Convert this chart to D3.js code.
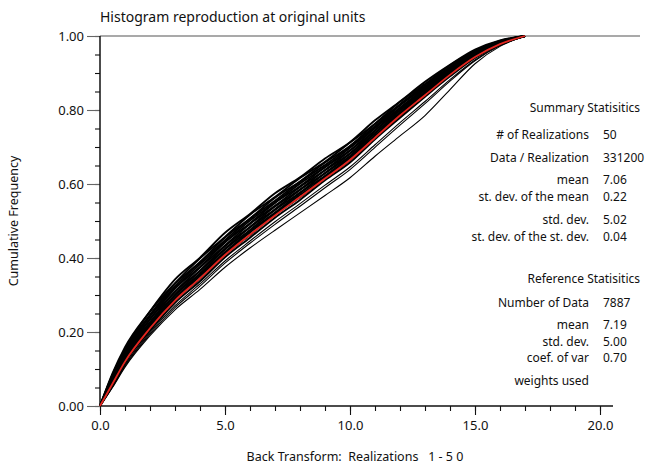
<!DOCTYPE html>
<html>
<head>
<meta charset="utf-8">
<script src="https://cdn.jsdelivr.net/npm/d3@7"></script>
<style>
  body { margin: 0; background: #fff; }
  svg text { font-family: "Noto Sans", sans-serif; fill: #111; }
</style>
</head>
<body>
<svg id="chart" width="648" height="471"></svg>
<script>
(function(d3){
  "use strict";

/***************** DATA ******************/
// x positions (original units) shared by every curve
var xs = [0, 0.5, 1, 2, 3, 4, 5, 6, 7, 8, 9, 10, 11, 12, 13, 14, 15, 16, 17];

// reference (declustered data) cdf, drawn in red
var reference = [0, .060, .120, .210, .285, .345, .408, .463, .515, .565, .615, .665, .725, .785, .840, .895, .943, .978, 1];

// realizations that make up the black band, top to bottom
var realizations = [
  [0, .088, .159, .256, .342, .401, .468, .519, .575, .618, .669, .713, .772, .823, .876, .922, .963, .988, 1],
  [0, .085, .152, .255, .332, .399, .457, .517, .565, .616, .660, .712, .763, .822, .870, .921, .960, .987, 1],
  [0, .082, .151, .246, .330, .389, .455, .507, .563, .607, .658, .703, .762, .815, .868, .916, .959, .986, 1],
  [0, .080, .146, .246, .323, .388, .448, .506, .555, .606, .651, .702, .756, .815, .864, .915, .957, .985, 1],
  [0, .077, .142, .242, .318, .383, .443, .501, .550, .601, .646, .698, .752, .812, .861, .912, .956, .984, 1],
  [0, .075, .142, .235, .317, .376, .442, .494, .549, .594, .645, .691, .751, .806, .859, .910, .954, .983, 1],
  [0, .073, .136, .234, .309, .374, .434, .492, .541, .592, .638, .690, .745, .805, .856, .908, .952, .983, 1],
  [0, .071, .136, .227, .308, .366, .432, .484, .539, .585, .637, .683, .744, .800, .855, .905, .951, .982, 1],
  [0, .068, .133, .224, .301, .365, .425, .483, .532, .584, .630, .682, .738, .799, .850, .904, .949, .981, 1],
  [0, .066, .128, .220, .299, .358, .423, .476, .530, .577, .629, .676, .737, .794, .848, .901, .948, .980, 1],
  [0, .063, .125, .219, .293, .355, .416, .473, .523, .575, .622, .674, .731, .792, .845, .899, .946, .979, 1],
  [0, .061, .122, .215, .288, .351, .412, .469, .519, .570, .618, .670, .728, .789, .843, .897, .944, .979, 1],
  [0, .059, .119, .209, .286, .344, .409, .462, .516, .564, .616, .664, .726, .784, .841, .894, .943, .978, 1],
  [0, .055, .116, .203, .279, .337, .402, .455, .509, .557, .610, .658, .721, .779, .836, .891, .941, .977, 1]
];

// the few realizations that sit below the band
var lowRealizations = [
  [0, .054, .111, .198, .271, .330, .392, .446, .498, .547, .597, .646, .706, .766, .823, .882, .935, .975, 1],
  [0, .052, .108, .194, .266, .324, .386, .440, .491, .540, .590, .639, .699, .759, .817, .878, .933, .974, 1],
  [0, .050, .105, .190, .260, .315, .375, .427, .475, .522, .569, .617, .675, .730, .785, .855, .925, .972, 1]
];

var xMajor = [0, 5, 10, 15, 20];
var xMinor = d3.range(0, 21, 1);
var yMajor = [0, 0.2, 0.4, 0.6, 0.8, 1.0];
var yMinor = d3.range(0, 1.0001, 0.05);

var summaryLabels = ["# of Realizations", "Data / Realization", "mean", "st. dev. of the mean", "std. dev.", "st. dev. of the st. dev."];
var summaryValues = ["50", "331200", "7.06", "0.22", "5.02", "0.04"];
var summaryRows = [135, 158, 180, 196.5, 220, 236.5];

var refLabels = ["Number of Data", "mean", "std. dev.", "coef. of var", "weights used"];
var refValues = ["7887", "7.19", "5.00", "0.70", ""];
var refRows = [303, 325, 341.5, 358, 381];

/***************** CHART ******************/
var svg = d3.select("#chart");
var x = d3.scaleLinear().domain([0, 20]).range([100, 600]);
var y = d3.scaleLinear().domain([0, 1]).range([406, 36]);

// top line at 1.00
svg.append("line")
  .attr("x1", x(0)).attr("x2", 640)
  .attr("y1", y(1)).attr("y2", y(1))
  .attr("stroke", "#555").attr("stroke-width", 1.2);

// x axis: minor then major ticks
var gx = svg.append("g").attr("transform", "translate(0," + y(0) + ")");
gx.append("g")
  .call(d3.axisBottom(x).tickValues(xMinor).tickSize(5).tickFormat(""))
  .call(function(g){ g.select(".domain").remove(); });
gx.append("g")
  .call(d3.axisBottom(x).tickValues(xMajor).tickSize(9).tickPadding(6).tickFormat(d3.format(".1f")))
  .call(function(g){ g.select(".domain").remove(); });
gx.append("line")
  .attr("x1", x(0)).attr("x2", 613)
  .attr("stroke", "#111").attr("stroke-width", 1.3);
gx.selectAll(".tick line").attr("stroke", "#111").attr("stroke-width", 1.1);

// y axis
var gy = svg.append("g").attr("transform", "translate(" + x(0) + ",0)");
gy.append("g")
  .call(d3.axisLeft(y).tickValues(yMinor).tickSize(5).tickFormat(""))
  .call(function(g){ g.select(".domain").remove(); });
gy.append("g")
  .attr("class", "ymajor")
  .call(d3.axisLeft(y).tickValues(yMajor).tickSize(13).tickPadding(3).tickFormat(d3.format(".2f")))
  .call(function(g){ g.select(".domain").remove(); });
gy.selectAll(".tick line").attr("stroke", "#111").attr("stroke-width", 1.1);
gy.selectAll(".ymajor .tick line").attr("stroke", "#666");
gy.append("line")
  .attr("y1", y(0)).attr("y2", y(1))
  .attr("stroke", "#111").attr("stroke-width", 1.5);

svg.selectAll(".tick text")
  .attr("font-size", 13)
  .attr("font-family", "'Noto Sans', sans-serif")
  .attr("fill", "#111");

// curves, smoothed between the read points
var line = d3.line()
  .curve(d3.curveMonotoneX)
  .x(function(d, i){ return x(xs[i]); })
  .y(function(d){ return y(d); });

svg.append("g").selectAll("path.low")
  .data(lowRealizations)
  .enter().append("path")
    .attr("class", "low")
    .attr("d", line)
    .attr("fill", "none")
    .attr("stroke", "#000")
    .attr("stroke-width", 1.1);

svg.append("g").selectAll("path.real")
  .data(realizations)
  .enter().append("path")
    .attr("class", "real")
    .attr("d", line)
    .attr("fill", "none")
    .attr("stroke", "#000")
    .attr("stroke-width", 1.9);

svg.append("path")
  .datum(reference)
  .attr("d", line)
  .attr("fill", "none")
  .attr("stroke", "#e3261f")
  .attr("stroke-width", 1.8);

// titles
svg.append("text")
  .attr("x", 100).attr("y", 22)
  .attr("font-size", 14)
  .text("Histogram reproduction at original units");

svg.append("text")
  .attr("transform", "translate(18,221) rotate(-90)")
  .attr("text-anchor", "middle")
  .attr("font-size", 12.5)
  .text("Cumulative Frequency");

svg.append("text")
  .attr("x", 355).attr("y", 461)
  .attr("text-anchor", "middle")
  .attr("font-size", 12.5)
  .style("white-space", "pre")
  .text("Back Transform:  Realizations   1 - 5 0");

// statistics block
function statBlock(title, titleY, labels, values, rows){
  svg.append("text")
    .attr("x", 640).attr("y", titleY + 4)
    .attr("text-anchor", "end")
    .attr("font-size", 12)
    .text(title);
  var g = svg.append("g").attr("font-size", 12);
  g.selectAll("text.lab")
    .data(labels)
    .enter().append("text")
      .attr("class", "lab")
      .attr("x", 589)
      .attr("y", function(d, i){ return rows[i] + 4; })
      .attr("text-anchor", "end")
      .text(function(d){ return d; });
  g.selectAll("text.val")
    .data(values)
    .enter().append("text")
      .attr("class", "val")
      .attr("x", 603)
      .attr("y", function(d, i){ return rows[i] + 4; })
      .text(function(d){ return d; });
}
statBlock("Summary Statisitics", 108, summaryLabels, summaryValues, summaryRows);
statBlock("Reference Statisitics", 279, refLabels, refValues, refRows);

})(d3);
</script>
</body>
</html>
